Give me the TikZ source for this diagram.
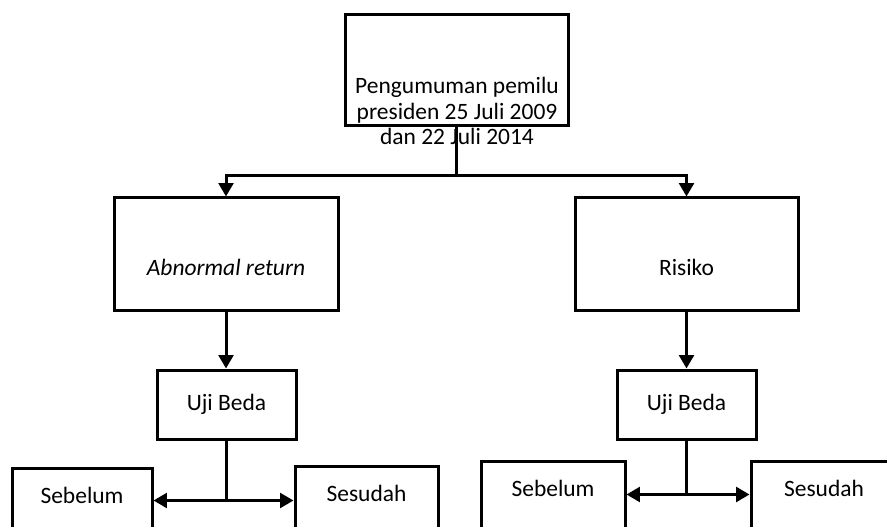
\documentclass[tikz,border=0pt]{standalone}
\usepackage{fontspec}
\setmainfont{Carlito}
\usetikzlibrary{arrows.meta}
\tikzset{box/.style={draw, line width=2.25pt, inner sep=0pt, align=center},
    low text/.style={text height=32pt, text depth=0pt},
    high text/.style={text height=12pt, text depth=35pt, anchor=north},
    arr/.style={line width=2.25pt, -{Triangle[length=10pt, width=11pt]}}
}

\begin{document}
\begin{tikzpicture}[x=0.75pt, y=-0.75pt, font=\fontsize{17.6}{19}\selectfont]
        \useasboundingbox (0,0) rectangle (887,527);
        \clip (0,0) rectangle (887,527);
        %top box
        \node[box, minimum width=167.25pt, minimum height=83.25pt](top) at (456.5,70.5){};
        \node[align=center, inner sep=0pt](toptext) at (457,111){Pengumuman pemilu\\presiden 25 Juli 2009\\dan 22 Juli 2014};

        %middle boxes
        \node[box, low text, minimum width=168pt, minimum height=84pt](ab) at (226,254){\itshape Abnormal return};
        \node[box, low text, minimum width=167.25pt, minimum height=84pt](risk) at (686.5,254){Risiko};
        \node[box, minimum width=104.25pt, minimum height=51.75pt](uji1) at (226.5,404.5){Uji Beda};
        \node[box, minimum width=104.25pt, minimum height=51.75pt](uji2) at (686.5,404.5){Uji Beda};

        %bottom boxes
        \node[box, high text, minimum width=105pt, minimum height=75pt](seb1) at (82,467){Sebelum};
        \node[box, high text, minimum width=107.25pt, minimum height=75pt](ses1) at (366.5,465){Sesudah};
        \node[box, high text, minimum width=108pt, minimum height=75pt](seb2) at (553,460){Sebelum};
        \node[box, high text, minimum width=109.5pt, minimum height=75pt](ses2) at (824,460){Sesudah};

        %connectors
        \coordinate (split) at ([yshift=-36pt]top.south);
        \draw[line width=2.25pt] (top.south) -- (split);
        \draw[arr] (split) -| (ab.north);
        \draw[arr] (split) -| (risk.north);
        \draw[arr] (ab.south) -- (ab.south |- uji1.north);
        \draw[arr] (risk.south) -- (risk.south |- uji2.north);

        \coordinate (fork1) at ([yshift=-45pt]uji1.south);
        \coordinate (fork2) at ([yshift=-40.5pt]uji2.south);
        \draw[line width=2.25pt] (uji1.south) -- (fork1);
        \draw[arr] (fork1) -- (fork1 -| seb1.east);
        \draw[arr] (fork1) -- (fork1 -| ses1.west);
        \draw[line width=2.25pt] (uji2.south) -- (fork2);
        \draw[arr] (fork2) -- (fork2 -| seb2.east);
        \draw[arr] (fork2) -- (fork2 -| ses2.west);
\end{tikzpicture}
\end{document}
